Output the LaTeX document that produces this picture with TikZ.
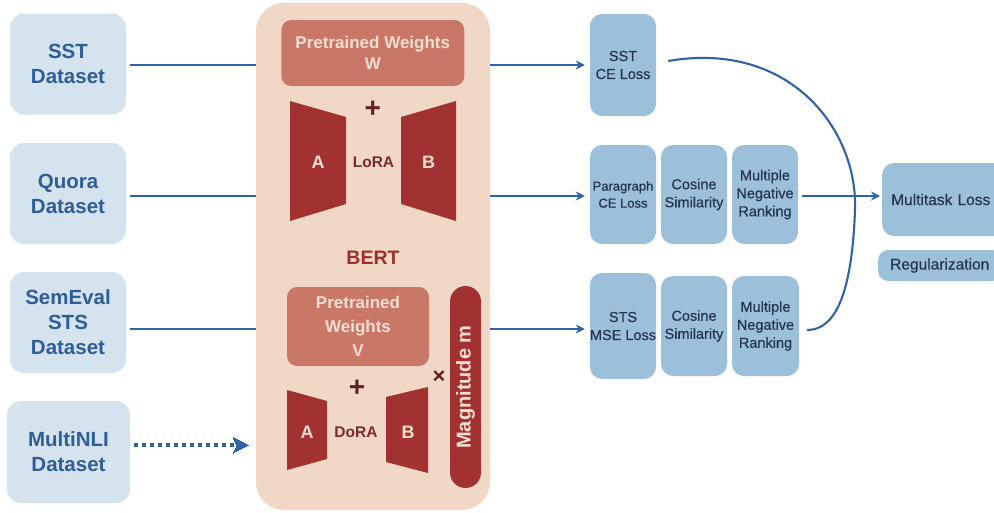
\documentclass[tikz,border=0pt]{standalone}
\usepackage{fontspec}
\setmainfont{Liberation Sans}
\newfontfamily\medfont{Liberation Sans}[FakeBold=0.4]
\usetikzlibrary{arrows.meta,calc}
\definecolor{dsfill}{HTML}{D4E3ED}
\definecolor{dstext}{HTML}{2F5D98}
\definecolor{lnblue}{HTML}{2F62A7}
\definecolor{lossfill}{HTML}{9CC0DA}
\definecolor{losstext}{HTML}{24344E}
\definecolor{bertfill}{HTML}{F1D8C6}
\definecolor{pwfill}{HTML}{C97868}
\definecolor{pwtext}{HTML}{F4DED0}
\definecolor{trap}{HTML}{A23232}
\definecolor{darkred}{HTML}{7B2A2E}
\definecolor{bertred}{HTML}{9A3030}
\definecolor{signred}{HTML}{5E2226}
\tikzset{
  dsbox/.style={fill=dsfill, draw=none, rounded corners=14pt, minimum width=116pt, minimum height=101pt, align=center, text=dstext, font=\fontsize{20.5}{25}\selectfont\bfseries, inner sep=0pt},
  lossbox/.style={fill=lossfill, draw=none, rounded corners=12pt, minimum width=66pt, align=center, text=losstext, font=\fontsize{14.5}{18}\selectfont\medfont, inner sep=0pt},
  pwbox/.style={fill=pwfill, draw=none, rounded corners=10pt, align=center, text=pwtext, font=\fontsize{17}{21}\selectfont\bfseries, inner sep=0pt},
  conn/.style={draw=lnblue, line width=2.1pt},
  arr/.style={conn, -{Stealth[length=9pt,width=9pt]}},
  traptext/.style={text=pwtext, font=\fontsize{18}{20}\selectfont\bfseries},
  redlabel/.style={text=darkred, font=\fontsize{15.5}{18}\selectfont\bfseries},
  signtext/.style={text=signred, font=\fontsize{28}{28}\selectfont\bfseries},
}
\begin{document}
\begin{tikzpicture}[x=1pt,y=-1pt]
\useasboundingbox (0,0) rectangle (994,512);
\clip (0,0) rectangle (994,512);
\fill[white] (0,0) rectangle (994,512);

% dataset boxes
\node[dsbox] (sst) at (68,64) {SST\\Dataset};
\node[dsbox] (quora) at (68,193.5) {Quora\\Dataset};
\node[dsbox] (semeval) at (68,322.5) {SemEval\\STS\\Dataset};
\node[dsbox, minimum width=123pt, minimum height=102pt] (mnli) at (68.5,452) {MultiNLI\\Dataset};

% BERT box
\node[fill=bertfill, rounded corners=28pt, minimum width=234pt, minimum height=507pt, inner sep=0pt] (bert) at (373,256.5) {};
\node[text=bertred, font=\fontsize{19.5}{22}\selectfont\bfseries] (berttxt) at (373,258) {BERT};

% LoRA part
\node[pwbox, minimum width=183pt, minimum height=66pt] (pww) at (372.8,53) {Pretrained Weights\\W};
\node[signtext] (plus1) at (372.7,109) {+};
\fill[trap] (290,101) -- (346,117) -- (346,204) -- (290,221) -- cycle;
\fill[trap] (401,117) -- (456,101) -- (456,221) -- (401,204) -- cycle;
\node[traptext] (la) at (318,162) {A};
\node[traptext] (lb) at (428.5,162) {B};
\node[redlabel] (lora) at (373.5,162) {LoRA};

% DoRA part
\node[pwbox, minimum width=142pt, minimum height=79pt, font=\fontsize{17}{24}\selectfont\bfseries] (pwv) at (358,326.5) {Pretrained\\Weights\\V};
\node[fill=trap, rounded corners=15.5pt, minimum width=31pt, minimum height=202pt, inner sep=0pt] (mag) at (465.5,387) {};
\node[rotate=90, text=pwtext, font=\fontsize{20}{22}\selectfont\bfseries] (magtxt) at (465.5,387) {Magnitude m};
\node[signtext, font=\fontsize{22}{22}\selectfont\bfseries] (times) at (439,377) {\symbol{"00D7}};
\node[signtext] (plus2) at (357,388) {+};
\fill[trap] (287,390) -- (327,401) -- (327,459) -- (287,470) -- cycle;
\fill[trap] (386,397) -- (428,387) -- (428,473) -- (386,462) -- cycle;
\node[traptext] (da) at (307,432) {A};
\node[traptext] (db) at (408,432) {B};
\node[redlabel] (dora) at (356,432) {DoRA};

% loss boxes
\node[lossbox, minimum height=102pt] (sstce) at (623,65) {SST\\CE Loss};
\node[lossbox, minimum height=99pt, font=\fontsize{13}{17}\selectfont\medfont] (parce) at (623,194.5) {Paragraph\\CE Loss};
\node[lossbox, minimum height=99pt] (cos1) at (694,194.5) {Cosine\\Similarity};
\node[lossbox, minimum height=99pt] (mnr1) at (765,194.5) {Multiple\\Negative\\Ranking};
\node[lossbox, minimum height=106pt] (stsmse) at (623,326) {STS\\MSE Loss};
\node[lossbox, minimum height=100pt] (cos2) at (694,326) {Cosine\\Similarity};
\node[lossbox, minimum height=100pt, minimum width=67pt] (mnr2) at (765.5,326) {Multiple\\Negative\\Ranking};

\node[lossbox, minimum width=124pt, minimum height=73pt, anchor=west, text width=118pt, align=left, font=\fontsize{15.5}{18}\selectfont\medfont] (mtl) at (882,199.5) {\hspace*{6pt}Multitask Loss};
\node[lossbox, minimum width=124pt, minimum height=31pt, anchor=west, rounded corners=10pt, text width=122pt, align=left, font=\fontsize{15.5}{18}\selectfont\medfont] (reg) at (878,265.5) {\hspace*{11pt}Regularization};

% line levels
\coordinate (l1) at (0,65);
\coordinate (l2) at (0,196);
\coordinate (l3) at (0,329);
\coordinate (l4) at (0,445);

% connectors datasets -> BERT
\draw[conn, shorten <=4pt] (sst.east |- l1) -- (bert.west |- l1);
\draw[conn, shorten <=4pt] (quora.east |- l2) -- (bert.west |- l2);
\draw[conn, shorten <=4pt] (semeval.east |- l3) -- (bert.west |- l3);
\draw[draw=lnblue, line width=3.2pt, dash pattern=on 4pt off 4pt, shorten <=4pt, shorten >=12pt] (mnli.east |- l4) -- ([xshift=-6pt]bert.west |- l4);
\draw[draw=lnblue, line width=0pt, fill=lnblue] (248,445) -- (233,437) -- (237,445) -- (233,453) -- cycle;

% BERT -> losses
\draw[arr, shorten >=5pt] (bert.east |- l1) -- (sstce.west |- l1);
\draw[arr, shorten >=5pt] (bert.east |- l2) -- (parce.west |- l2);
\draw[arr, shorten >=5pt] (bert.east |- l3) -- (stsmse.west |- l3);

% to multitask
\draw[arr, shorten <=4pt, shorten >=2pt] (mnr1.east |- l2) -- (mtl.west |- l2);
\draw[conn] ([shift={(12pt,4pt)}]sstce.east) .. controls (790,40) and (858,130) .. (855,210)
   .. controls (852,292) and (836,330) .. ([shift={(8pt,-4pt)}]mnr2.east);
\end{tikzpicture}
\end{document}
